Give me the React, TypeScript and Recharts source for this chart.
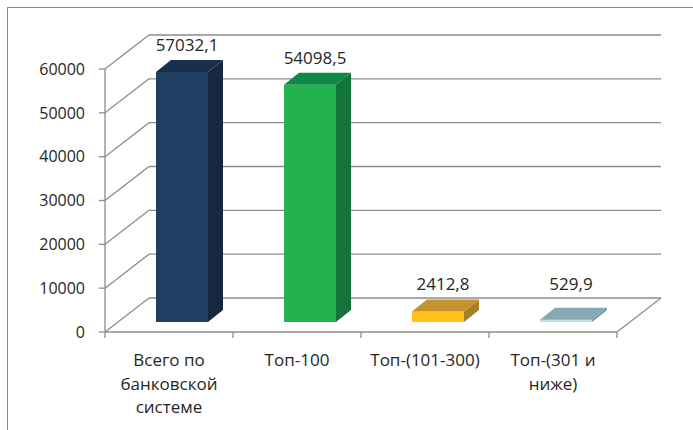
import { BarChart, Bar, XAxis, YAxis, CartesianGrid, LabelList } from 'recharts';

// Объём по группам банков
const categories = ['Всего по\nбанковской\nсистеме', 'Топ-100', 'Топ-(101-300)', 'Топ-(301 и\nниже)'];
const values = [57032.1, 54098.5, 2412.8, 529.9];
const yTicks = [0, 10000, 20000, 30000, 40000, 50000, 60000];

const frontColors = ['#1F3E61', '#22B24E', '#FEC218', '#B9DEE6'];
const topColors = ['#182F4E', '#0E8A42', '#C4932E', '#86AAB1'];
const sideColors = ['#16273F', '#14733A', '#A6812B', '#6F9197'];

const data = categories.map((name, i) => ({ name, value: values[i] }));

const W = 693;
const H = 430;
const PLOT_LEFT = 105;
const PLOT_RIGHT = 617;
const PLOT_TOP = 69;
const PLOT_BOTTOM = 332;
const BAND = (PLOT_RIGHT - PLOT_LEFT) / categories.length;

// oblique projection of the 3D box: depth of the floor/walls
const DX = 44;
const DY = 34;
// bars sit inside the depth: front face offset and bar thickness
const FRONT_DX = 13;
const FRONT_DY = 10;
const DEPTH_DX = 15;
const DEPTH_DY = 12;

const GRID = '#8C8C8C';
const TEXT = '#262626';
const FONT = '"Open Sans", "Noto Sans", sans-serif';

const fmt = (v: number) => v.toFixed(1).replace('.', ',');

// each horizontal grid line becomes a side-wall diagonal plus a back-wall line
const WallLine = (props: any) => {
  const { x1, x2, y1, index } = props;
  const isFloor = Math.abs(y1 - PLOT_BOTTOM) < 0.5;
  return (
    <g key={`wall-${index}`}>
      <line x1={x1} y1={y1} x2={x1 + DX} y2={y1 - DY} stroke={GRID} strokeWidth={1.3} />
      <line x1={x1 + DX} y1={y1 - DY} x2={x2 + DX} y2={y1 - DY} stroke={GRID} strokeWidth={1.3} />
      {isFloor && (
        <line x1={x2} y1={y1} x2={x2 + DX} y2={y1 - DY} stroke={GRID} strokeWidth={1.3} />
      )}
    </g>
  );
};

const Box3D = (props: any) => {
  const { x, y, width, height, index } = props;
  const fx = x + FRONT_DX;
  const fy = y - FRONT_DY;
  const rx = fx + width;
  const by = fy + height;
  const top = `${fx},${fy} ${fx + DEPTH_DX},${fy - DEPTH_DY} ${rx + DEPTH_DX},${fy - DEPTH_DY} ${rx},${fy}`;
  const side = `${rx},${fy} ${rx + DEPTH_DX},${fy - DEPTH_DY} ${rx + DEPTH_DX},${by - DEPTH_DY} ${rx},${by}`;
  return (
    <g>
      <rect x={fx} y={fy} width={width} height={height} fill={frontColors[index]} />
      <polygon points={side} fill={sideColors[index]} />
      <polygon points={top} fill={topColors[index]} />
    </g>
  );
};

const ValueLabel = (props: any) => {
  const { x, y, width, height, value } = props;
  const cx = x + FRONT_DX + width / 2 + 5;
  // short bars keep a minimum clearance above the floor
  const baseline = Math.min(y - 31, y + height - 42);
  return (
    <text x={cx} y={baseline} textAnchor="middle" fill={TEXT} fontSize={17} fontFamily={FONT}>
      {fmt(value)}
    </text>
  );
};

const CategoryTick = (props: any) => {
  const { x, y, payload, index } = props;
  const lines = String(payload.value).split('\n');
  const left = x - BAND / 2;
  const right = x + BAND / 2;
  return (
    <g>
      <line x1={left} y1={y} x2={left} y2={y + 6} stroke={GRID} strokeWidth={1.3} />
      {index === categories.length - 1 && (
        <line x1={right} y1={y} x2={right} y2={y + 6} stroke={GRID} strokeWidth={1.3} />
      )}
      <text x={x} y={y + 34} textAnchor="middle" fill={TEXT} fontSize={17} fontFamily={FONT}>
        {lines.map((l, i) => (
          <tspan key={i} x={x} dy={i === 0 ? 0 : 23.5}>{l}</tspan>
        ))}
      </text>
    </g>
  );
};

export default function App() {
  return (
    <div style={{ position: 'absolute', left: 0, top: 0, width: W, height: H, background: '#FFFFFF' }}>
      <div
        style={{
          position: 'absolute', left: 7, top: 7, width: W, height: H,
          borderLeft: '1px solid #8A8A8A', borderTop: '1px solid #8A8A8A',
        }}
      />
      <BarChart
        width={W}
        height={H}
        data={data}
        margin={{ top: PLOT_TOP, right: W - PLOT_RIGHT, bottom: 0, left: 0 }}
        style={{ position: 'absolute', left: 0, top: 0 }}
      >
        <CartesianGrid vertical={false} horizontal={WallLine} />
        <YAxis
          width={PLOT_LEFT}
          domain={[0, 60000]}
          ticks={yTicks}
          interval={0}
          axisLine={{ stroke: GRID, strokeWidth: 1.3 }}
          tickLine={{ stroke: GRID, strokeWidth: 1.3 }}
          tickSize={6}
          tickMargin={14}
          tick={{ fill: TEXT, fontSize: 16, fontFamily: FONT }}
        />
        <XAxis
          dataKey="name"
          height={H - PLOT_BOTTOM}
          interval={0}
          axisLine={{ stroke: GRID, strokeWidth: 1.3 }}
          tickLine={false}
          tickSize={0}
          tickMargin={0}
          tick={<CategoryTick />}
        />
        <Bar dataKey="value" barSize={52} shape={<Box3D />} isAnimationActive={false}>
          <LabelList dataKey="value" content={<ValueLabel />} />
        </Bar>
      </BarChart>
    </div>
  );
}
